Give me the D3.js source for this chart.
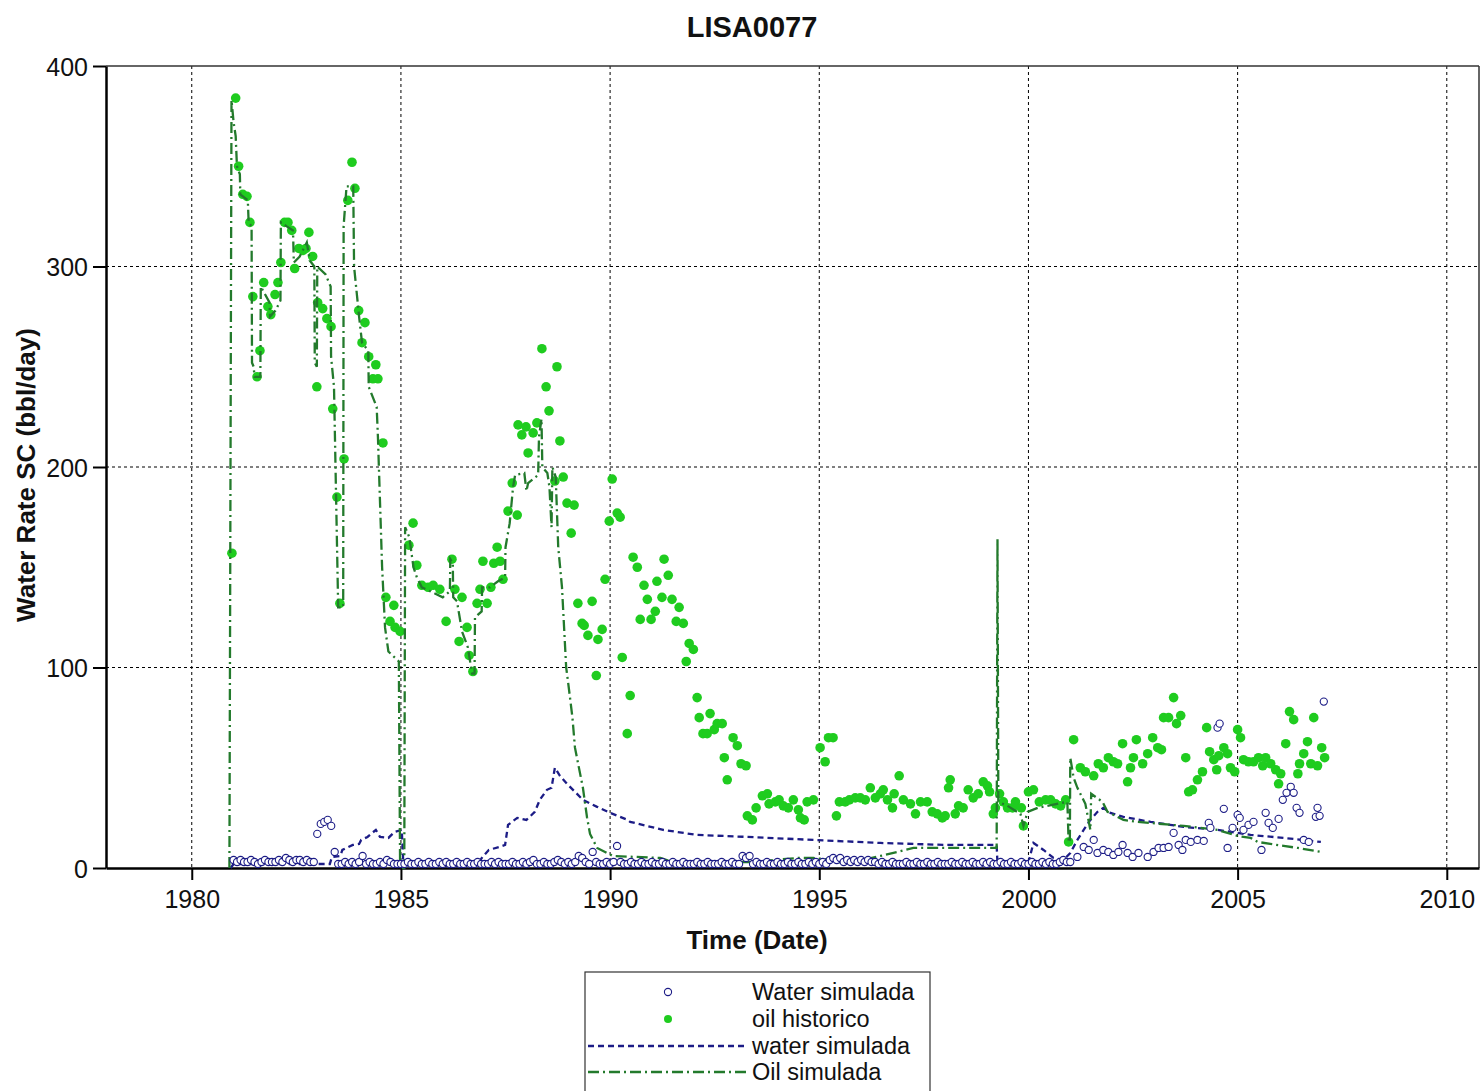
<!DOCTYPE html>
<html>
<head>
<meta charset="utf-8">
<script src="https://cdn.jsdelivr.net/npm/d3@7"></script>
<style>
html,body{margin:0;padding:0;background:#fff;}
svg{display:block;font-family:"Liberation Sans",Arial,sans-serif;}
</style>
</head>
<body>
<svg id="chart" width="1481" height="1091"></svg>
<script>
// ---------------- DATA ----------------
const chartTitle = "LISA0077";
const xLabel = "Time (Date)";
const yLabel = "Water Rate SC (bbl/day)";
const xTicks = [1980, 1985, 1990, 1995, 2000, 2005, 2010];
const yTicks = [0, 100, 200, 300, 400];
const legendLabels = ["Water simulada", "oil historico", "water simulada", "Oil simulada"];

// oil historico: [decimal year, bbl/day]
const oilHistorico = [
[1980.96,157],[1981.05,384],[1981.12,350],[1981.22,336],[1981.32,335],[1981.39,322],[1981.46,285],[1981.56,245],[1981.63,258],[1981.72,292],
[1981.82,280],[1981.89,276],[1981.99,286],[1982.06,292],[1982.13,302],[1982.22,322],[1982.30,322],[1982.39,318],[1982.46,299],[1982.56,309],
[1982.66,308],[1982.73,309],[1982.80,317],[1982.89,305],[1982.99,240],[1983.01,282],[1983.13,279],[1983.23,274],[1983.33,270],[1983.37,229],
[1983.47,185],[1983.54,132],[1983.64,204],[1983.73,333],[1983.83,352],[1983.90,339],[1983.99,278],[1984.07,262],[1984.14,272],[1984.23,255],
[1984.33,244],[1984.40,251],[1984.45,244],[1984.57,212],[1984.64,135],[1984.74,123],[1984.83,131],[1984.86,120],[1984.98,118],[1985.19,161],
[1985.29,172],[1985.38,151],[1985.50,141],[1985.65,140],[1985.77,141],[1985.93,139],[1986.08,123],[1986.22,154],[1986.29,139],[1986.39,113],
[1986.46,135],[1986.58,120],[1986.63,106],[1986.72,98],[1986.82,132],[1986.89,139],[1986.96,153],[1987.06,132],[1987.15,140],[1987.22,152],
[1987.30,160],[1987.37,153],[1987.44,144],[1987.56,178],[1987.66,192],[1987.78,176],[1987.80,221],[1987.89,216],[1987.99,220],[1988.04,207],
[1988.16,217],[1988.25,222],[1988.37,259],[1988.47,240],[1988.54,228],[1988.68,193],[1988.73,250],[1988.80,213],[1988.88,195],[1988.97,182],
[1989.07,167],[1989.14,181],[1989.23,132],[1989.33,122],[1989.38,121],[1989.47,116],[1989.57,133],[1989.67,96],[1989.71,114],[1989.81,119],
[1989.88,144],[1989.98,173],[1990.05,194],[1990.17,177],[1990.24,175],[1990.29,105],[1990.41,67],[1990.48,86],[1990.55,155],[1990.65,150],
[1990.72,124],[1990.81,141],[1990.89,134],[1990.98,124],[1991.08,128],[1991.12,143],[1991.24,135],[1991.29,154],[1991.39,146],[1991.48,134],
[1991.58,123],[1991.65,130],[1991.75,122],[1991.82,103],[1991.89,112],[1991.99,109],[1992.08,85],[1992.13,75],[1992.22,67],[1992.32,67],
[1992.39,77],[1992.49,69],[1992.56,72],[1992.68,72],[1992.73,55],[1992.80,44],[1992.94,65],[1993.04,61],[1993.13,52],[1993.25,51],
[1993.28,26],[1993.40,24],[1993.49,30],[1993.64,36],[1993.76,37],[1993.80,32],[1993.95,33],[1994.04,34],[1994.14,31],[1994.26,30],
[1994.38,34],[1994.50,29],[1994.55,25],[1994.64,24],[1994.71,33],[1994.86,34],[1995.02,60],[1995.14,53],[1995.22,65],[1995.33,65],
[1995.41,26],[1995.48,33],[1995.62,33],[1995.72,34],[1995.86,35],[1995.98,35],[1996.10,34],[1996.22,40],[1996.34,35],[1996.46,37],
[1996.53,39],[1996.63,34],[1996.75,30],[1996.79,37],[1996.91,46],[1997.01,34],[1997.18,32],[1997.30,27],[1997.42,33],[1997.58,33],
[1997.70,28],[1997.82,27],[1997.94,25],[1998.01,26],[1998.09,40],[1998.13,44],[1998.25,27],[1998.33,31],[1998.44,30],[1998.56,39],
[1998.68,35],[1998.80,37],[1998.92,43],[1999.02,41],[1999.07,38],[1999.16,27],[1999.21,30],[1999.31,37],[1999.40,33],[1999.50,30],
[1999.62,30],[1999.69,33],[1999.83,30],[1999.88,21],[2000.00,38],[2000.12,39],[2000.26,33],[2000.41,34],[2000.53,34],[2000.65,32],
[2000.77,31],[2000.89,34],[2000.96,13],[2001.08,64],[2001.24,50],[2001.36,48],[2001.56,46],[2001.67,52],[2001.79,50],[2001.91,55],
[2002.03,53],[2002.13,52],[2002.25,62],[2002.37,43],[2002.44,50],[2002.51,55],[2002.58,64],[2002.73,52],[2002.85,57],[2002.97,65],
[2003.09,60],[2003.18,59],[2003.23,75],[2003.35,75],[2003.47,85],[2003.54,72],[2003.64,76],[2003.76,55],[2003.83,38],[2003.92,39],
[2004.04,44],[2004.16,48],[2004.26,70],[2004.33,58],[2004.43,54],[2004.50,49],[2004.55,56],[2004.67,60],[2004.76,57],[2004.83,50],
[2004.93,48],[2005.00,69],[2005.07,65],[2005.14,54],[2005.26,53],[2005.38,53],[2005.50,55],[2005.60,51],[2005.67,55],[2005.79,52],
[2005.91,49],[2005.98,42],[2006.03,47],[2006.15,62],[2006.24,78],[2006.34,74],[2006.44,47],[2006.48,52],[2006.58,57],[2006.67,63],
[2006.75,52],[2006.82,75],[2006.91,51],[2007.01,60],[2007.08,55]
];

// Water simulada (circles), monthly values 1981-2000
const waterCircleYears = [1981,1982,1983,1984,1985,1986,1987,1988,1989,1990,1991,1992,1993,1994,1995,1996,1997,1998,1999,2000];
const waterCircleMonthly = [
[4,3,4,3,3,4,3,2,3,4,3,3],
[3,4,3,5,4,3,4,4,3,4,3,3],
[17,22,23,24,21,8,2,2,3,2,3,2],
[3,6,2,3,2,2,3,2,4,3,2,2],
[2,2,3,2,2,3,2,2,3,2,2,3],
[2,3,2,2,3,2,2,3,2,2,3,2],
[2,2,3,2,3,2,2,2,3,2,2,3],
[2,3,4,2,2,3,2,2,3,4,3,2],
[3,2,3,6,5,3,2,8,3,2,2,3],
[2,3,11,3,2,2,3,2,2,3,2,2],
[3,2,2,3,2,2,3,2,2,3,2,2],
[2,3,2,2,3,2,2,2,3,2,2,3],
[2,2,6,5,6,2,3,2,2,3,2,2],
[3,2,2,3,2,2,3,2,2,3,2,3],
[2,3,2,4,5,4,5,3,4,3,4,3],
[4,3,4,3,3,2,3,2,2,3,2,2],
[2,3,2,2,3,2,2,3,2,2,3,2],
[2,2,3,2,2,3,2,2,3,2,2,3],
[2,3,2,2,3,2,2,3,2,2,3,2],
[2,3,2,2,3,2,3,2,2,3,4,3]
];
// Water simulada (circles) after 2001: [decimal year, value]
const waterCircleLate = [
[2001.00,3],[2001.17,5.5],[2001.32,10.5],[2001.44,9],[2001.56,14],[2001.65,7.5],[2001.79,9],[2001.91,8],[2002.03,6.5],[2002.15,8],
[2002.25,11.5],[2002.37,7.5],[2002.49,5.5],[2002.63,7.5],[2002.85,5.5],[2002.99,8],[2003.11,10],[2003.23,10],[2003.35,10.5],[2003.47,17.5],
[2003.59,11.5],[2003.68,9],[2003.76,14],[2003.88,13],[2004.04,14],[2004.19,13.5],[2004.31,22.5],[2004.35,20],[2004.52,70],[2004.57,72],
[2004.67,29.5],[2004.76,10],[2004.88,20],[2005.00,26.5],[2005.05,25],[2005.14,19],[2005.26,21.5],[2005.38,23],[2005.57,9],[2005.67,27.5],
[2005.74,22.5],[2005.84,20],[2005.98,24.5],[2006.08,34],[2006.17,37.5],[2006.27,40.5],[2006.34,37.5],[2006.41,30],[2006.48,27.5],[2006.58,14],
[2006.70,13],[2006.87,25.5],[2006.91,30],[2006.96,26],[2007.06,83]
];

// water simulada (dashed line)
const waterSimLine = [
[1980.93,0],[1981.0,2],[1983.30,2],[1983.35,5.5],[1983.55,6],[1983.60,9],[1983.85,11.5],[1984.0,12],[1984.05,14],[1984.20,15.5],
[1984.40,19],[1984.50,15.5],[1984.70,15],[1984.85,18],[1985.02,19],[1985.06,1],[1986.80,1],[1986.95,5.5],[1987.10,9],[1987.35,10.5],
[1987.49,11.5],[1987.56,21.5],[1987.78,25],[1988.00,24],[1988.20,28],[1988.32,34],[1988.49,39],[1988.60,40],[1988.68,50],[1988.80,46],
[1988.97,42],[1989.16,38],[1989.35,34],[1989.69,30.5],[1990.0,27.5],[1990.42,24],[1990.48,23],[1991.27,19],[1992.08,16.5],[1993.28,15.5],
[1994.86,14],[1996.46,12.5],[1998.06,11.5],[1999.24,11.5],[1999.26,2],[1999.99,2],[2000.12,12.5],[2000.36,9],[2000.60,5],[2000.84,4],
[2001.00,7.5],[2001.17,14],[2001.32,19],[2001.48,24],[2001.65,28],[2001.79,30],[2001.96,27.5],[2002.27,25.5],[2002.92,23],[2003.71,20.5],
[2004.52,19],[2005.31,16.5],[2006.10,15],[2006.99,13]
];

// Oil simulada (dash-dot line)
const oilSimLine = [
[1980.90,0],[1980.95,383],[1981.00,372],[1981.05,365],[1981.08,350],[1981.15,346],[1981.16,336],[1981.34,333],[1981.36,322],[1981.43,320],
[1981.44,252],[1981.48,250],[1981.50,245],[1981.64,245],[1981.65,290],[1981.86,282],[1981.87,275],[1982.00,278],[1982.12,283],[1982.13,322],
[1982.27,320],[1982.42,318],[1982.44,302],[1982.58,305],[1982.75,312],[1982.82,303],[1982.93,300],[1982.94,252],[1982.99,250],[1983.00,300],
[1983.20,296],[1983.32,290],[1983.33,255],[1983.40,240],[1983.45,185],[1983.50,130],[1983.62,130],[1983.63,320],[1983.70,340],[1983.86,340],
[1983.88,300],[1984.00,275],[1984.07,262],[1984.22,258],[1984.23,240],[1984.42,230],[1984.45,215],[1984.55,150],[1984.62,120],[1984.70,108],
[1984.95,103],[1984.98,0],[1985.08,0],[1985.10,170],[1985.20,165],[1985.30,150],[1985.38,145],[1985.50,140],[1986.00,135],[1986.17,138],
[1986.18,154],[1986.24,152],[1986.25,135],[1986.34,133],[1986.46,118],[1986.60,110],[1986.70,97],[1986.76,97],[1986.77,125],[1986.93,128],
[1986.94,140],[1987.13,140],[1987.32,143],[1987.49,145],[1987.50,160],[1987.60,172],[1987.68,190],[1987.73,196],[1987.95,197],[1988.00,188],
[1988.04,192],[1988.28,196],[1988.30,215],[1988.36,224],[1988.38,200],[1988.50,197],[1988.55,190],[1988.60,170],[1988.62,200],[1988.70,195],
[1988.76,160],[1988.85,140],[1988.95,100],[1989.00,92],[1989.10,75],[1989.16,60],[1989.35,40],[1989.45,25],[1989.52,17],[1989.69,10],
[1989.88,8],[1990.07,6],[1991.20,5],[1991.50,3],[1993.28,3],[1993.60,3],[1993.90,4],[1994.50,5],[1994.86,5],[1995.33,4],
[1995.60,2],[1996.46,6],[1997.25,10],[1999.24,10],[1999.26,164],[1999.28,33],[1999.50,31],[1999.81,27],[1999.88,21],[1999.98,28],
[2000.22,30],[2000.93,33],[2000.96,13],[2000.99,13],[2001.00,55],[2001.08,45],[2001.17,40],[2001.36,32],[2001.48,19],[2001.50,37],
[2001.77,33],[2001.89,28],[2002.27,24],[2002.61,23],[2003.71,21],[2004.52,19],[2005.00,16],[2005.31,15],[2005.48,13],[2006.10,11],
[2006.44,10],[2006.99,8]
];

// ---------------- DRAW ----------------
const svg = d3.select("#chart");
const L = 106, R = 1479, T = 66, B = 868;
const x = d3.scaleLinear().domain([1977.95, 2010.77]).range([L, R]);
const y = d3.scaleLinear().domain([0, 400]).range([B, T]);

const navy = "#1c1c86";
const green = "#1fcc1f";
const darkGreen = "#237a2c";
const FONT = "Liberation Sans, Arial, sans-serif";

// Grid
const grid = svg.append("g");
grid.selectAll("line.vg").data(xTicks).join("line")
  .attr("x1", d => x(d)).attr("x2", d => x(d)).attr("y1", T).attr("y2", B)
  .attr("stroke", "#000").attr("stroke-width", 1).attr("stroke-dasharray", "3,3");
grid.selectAll("line.hg").data(yTicks.filter(d => d > 0 && d < 400)).join("line")
  .attr("x1", L).attr("x2", R).attr("y1", d => y(d)).attr("y2", d => y(d))
  .attr("stroke", "#000").attr("stroke-width", 1).attr("stroke-dasharray", "3,3");

// Frame: top & right
svg.append("line").attr("x1", L).attr("x2", R).attr("y1", T).attr("y2", T).attr("stroke", "#333").attr("stroke-width", 1.5);
svg.append("line").attr("x1", R).attr("x2", R).attr("y1", T).attr("y2", B).attr("stroke", "#333").attr("stroke-width", 1.5);

// Axes
const xAxis = d3.axisBottom(x).tickValues(xTicks).tickFormat(d3.format("d")).tickSize(12).tickSizeOuter(0);
const gx = svg.append("g").attr("transform", `translate(0,${B})`).call(xAxis);
gx.select(".domain").attr("stroke", "#000").attr("stroke-width", 2.5);
gx.selectAll(".tick line").attr("stroke", "#000").attr("stroke-width", 2);
gx.selectAll(".tick text").attr("font-size", 25).attr("fill", "#111").attr("dy", "1em").attr("font-family", FONT);

const yAxis = d3.axisLeft(y).tickValues(yTicks).tickSize(13).tickSizeOuter(0);
const gy = svg.append("g").attr("transform", `translate(${L},0)`).call(yAxis);
gy.select(".domain").attr("stroke", "#000").attr("stroke-width", 2.5);
gy.selectAll(".tick line").attr("stroke", "#000").attr("stroke-width", 2);
gy.selectAll(".tick text").attr("font-size", 25).attr("fill", "#111").attr("x", -18).attr("dy", "0.36em").attr("font-family", FONT);

// Series
const waterCirclePts = [];
waterCircleYears.forEach((yr, i) => {
  waterCircleMonthly[i].forEach((v, m) => waterCirclePts.push([yr + m / 12, v]));
});
waterCircleLate.forEach(p => waterCirclePts.push(p));

const plot = svg.append("g");

plot.append("g").selectAll("circle").data(oilHistorico).join("circle")
  .attr("cx", d => x(d[0])).attr("cy", d => y(d[1])).attr("r", 4.8)
  .attr("fill", green);

const line = d3.line().x(d => x(d[0])).y(d => y(d[1]));

plot.append("path").datum(waterSimLine).attr("d", line)
  .attr("fill", "none").attr("stroke", navy).attr("stroke-width", 2.3).attr("stroke-dasharray", "6,4");

plot.append("path").datum(oilSimLine).attr("d", line)
  .attr("fill", "none").attr("stroke", darkGreen).attr("stroke-width", 2.3).attr("stroke-dasharray", "11,4,2,4");

plot.append("g").selectAll("circle").data(waterCirclePts).join("circle")
  .attr("cx", d => x(d[0])).attr("cy", d => y(d[1])).attr("r", 3.6)
  .attr("fill", "#fff").attr("stroke", navy).attr("stroke-width", 1.1);

// Titles
svg.append("text").attr("x", 752).attr("y", 37).attr("text-anchor", "middle").attr("font-family", FONT)
  .attr("font-size", 29).attr("font-weight", "bold").attr("fill", "#111").text(chartTitle);
svg.append("text").attr("x", 757).attr("y", 949).attr("text-anchor", "middle").attr("font-family", FONT)
  .attr("font-size", 26).attr("font-weight", "bold").attr("fill", "#111").text(xLabel);
svg.append("text").attr("transform", "translate(35,475) rotate(-90)").attr("text-anchor", "middle").attr("font-family", FONT)
  .attr("font-size", 26).attr("font-weight", "bold").attr("fill", "#111").text(yLabel);

// Legend
const lg = svg.append("g");
lg.append("rect").attr("x", 585).attr("y", 972).attr("width", 345).attr("height", 125)
  .attr("fill", "#fff").attr("stroke", "#333").attr("stroke-width", 1.2);
const rowY = [992, 1019, 1046, 1072];
lg.selectAll("text").data(legendLabels).join("text")
  .attr("x", 752).attr("y", (d, i) => rowY[i]).attr("dy", "0.35em").attr("font-family", FONT)
  .attr("font-size", 23.5).attr("fill", "#111").text(d => d);
lg.append("circle").attr("cx", 668).attr("cy", rowY[0]).attr("r", 3.6).attr("fill", "#fff").attr("stroke", navy).attr("stroke-width", 1.1);
lg.append("circle").attr("cx", 668).attr("cy", rowY[1]).attr("r", 4).attr("fill", green);
lg.append("line").attr("x1", 588).attr("x2", 748).attr("y1", rowY[2]).attr("y2", rowY[2])
  .attr("stroke", navy).attr("stroke-width", 2.3).attr("stroke-dasharray", "6,4");
lg.append("line").attr("x1", 588).attr("x2", 748).attr("y1", rowY[3]).attr("y2", rowY[3])
  .attr("stroke", darkGreen).attr("stroke-width", 2.3).attr("stroke-dasharray", "11,4,2,4");
</script>
</body>
</html>
